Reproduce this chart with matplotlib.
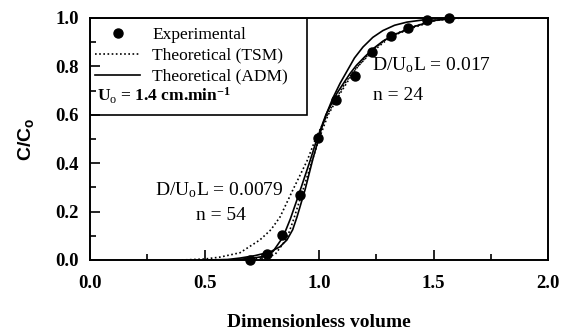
import matplotlib
matplotlib.use("Agg")
import matplotlib.pyplot as plt
from matplotlib.lines import Line2D
from matplotlib.patches import Rectangle

plt.rcParams['font.family'] = 'Liberation Serif'
plt.rcParams['mathtext.fontset'] = 'custom'
plt.rcParams['mathtext.rm'] = 'Liberation Serif'
plt.rcParams['mathtext.it'] = 'Liberation Serif:italic'
plt.rcParams['mathtext.bf'] = 'Liberation Serif:bold'
plt.rcParams['mathtext.sf'] = 'Liberation Sans:bold'

# experimental points
exp_x = [0.699, 0.773, 0.838, 0.917, 0.996, 1.074, 1.157, 1.231, 1.314, 1.389, 1.472, 1.568]
exp_y = [0.0, 0.025, 0.103, 0.269, 0.504, 0.661, 0.76, 0.86, 0.926, 0.959, 0.992, 1.0]

# theoretical curves
adm1_x = [0.50, 0.60, 0.655, 0.72, 0.786, 0.830, 0.860, 0.885, 0.904, 0.939, 0.974, 1.01,
          1.035, 1.061, 1.092, 1.122, 1.155, 1.192, 1.235, 1.279, 1.33, 1.384, 1.485, 1.6, 2.0]
adm1_y = [0.0, 0.002, 0.008, 0.018, 0.033, 0.055, 0.083, 0.125, 0.178, 0.29, 0.42, 0.54,
          0.61, 0.67, 0.73, 0.78, 0.835, 0.88, 0.92, 0.948, 0.97, 0.983, 0.996, 1.0, 1.0]
adm2_x = [0.62, 0.712, 0.760, 0.799, 0.843, 0.875, 0.908, 0.961, 0.991, 1.03, 1.079, 1.135,
          1.164, 1.20, 1.239, 1.28, 1.327, 1.416, 1.504, 1.6, 2.0]
adm2_y = [0.0, 0.008, 0.015, 0.035, 0.095, 0.17, 0.26, 0.41, 0.5, 0.6, 0.69, 0.77,
          0.805, 0.84, 0.875, 0.905, 0.93, 0.965, 0.99, 1.0, 1.0]
tsm1_x = [0.40, 0.50, 0.568, 0.655, 0.742, 0.790, 0.830, 0.886, 0.948, 0.985, 1.02, 1.07,
          1.12, 1.16, 1.23, 1.31, 1.40, 1.49, 1.6, 2.0]
tsm1_y = [0.0, 0.004, 0.012, 0.03, 0.083, 0.125, 0.178, 0.29, 0.41, 0.50, 0.57, 0.66,
          0.74, 0.79, 0.865, 0.925, 0.96, 0.988, 1.0, 1.0]
tsm2_x = [0.65, 0.73, 0.78, 0.81, 0.86, 0.89, 0.92, 0.97, 1.0, 1.04, 1.09, 1.14, 1.17,
          1.21, 1.245, 1.29, 1.33, 1.42, 1.51, 1.62, 2.0]
tsm2_y = [0.0, 0.006, 0.012, 0.025, 0.09, 0.17, 0.26, 0.41, 0.5, 0.6, 0.685, 0.76, 0.8,
          0.84, 0.87, 0.905, 0.93, 0.963, 0.99, 1.0, 1.0]

fig = plt.figure(figsize=(5.63, 3.31), dpi=100)
ax = fig.add_axes([90 / 563, 1 - 260 / 331, 458 / 563, 242 / 331])

lw = 1.2
dots = (0, (1, 1.5))
ax.plot(tsm1_x, tsm1_y, color='black', ls=dots, lw=lw)
ax.plot(tsm2_x, tsm2_y, color='black', ls=dots, lw=lw)
ax.plot(adm1_x, adm1_y, color='black', lw=lw)
ax.plot(adm2_x, adm2_y, color='black', lw=lw)
ax.plot(exp_x, exp_y, 'o', color='black', ms=6.5, clip_on=False, zorder=5)

ax.set_xlim(0, 2.0)
ax.set_ylim(0, 1.0)
ax.set_xticks([0, 0.5, 1.0, 1.5, 2.0])
ax.set_xticks([0.25, 0.75, 1.25, 1.75], minor=True)
ax.set_yticks([0, 0.2, 0.4, 0.6, 0.8, 1.0])
ax.set_yticks([0.1, 0.3, 0.5, 0.7, 0.9], minor=True)
ax.xaxis.set_major_formatter(plt.FormatStrFormatter('%.1f'))
ax.yaxis.set_major_formatter(plt.FormatStrFormatter('%.1f'))
ax.tick_params(which='both', direction='in', top=False, right=False, width=1.2)
ax.tick_params(which='major', length=7, labelsize=13.5, pad=8)
ax.tick_params(axis='x', which='major', pad=11)
ax.tick_params(which='minor', length=4.5)
for lab in ax.get_xticklabels() + ax.get_yticklabels():
    lab.set_fontweight('bold')
for sp in ax.spines.values():
    sp.set_linewidth(1.4)

ax.set_xlabel('Dimensionless volume', fontsize=14, fontweight='bold')
ax.xaxis.set_label_coords(0.5, -0.222)
ax.set_ylabel(r'$\mathsf{C/C_o}$', fontsize=14)
ax.yaxis.set_label_coords(-0.118, 0.5)

# legend box
ax.add_patch(Rectangle((0, 0.6), 0.948, 0.4, fill=False, ec='black', lw=1.2, zorder=6))
handles = [Line2D([], [], marker='o', ls='none', color='black', ms=6.5),
           Line2D([], [], color='black', ls=dots, lw=lw),
           Line2D([], [], color='black', lw=lw)]
labels = ['Experimental', 'Theoretical (TSM)', 'Theoretical (ADM)']
ax.legend(handles, labels, loc='upper left', bbox_to_anchor=(0.011, 0.965), frameon=False,
          fontsize=12.5, handlelength=2.6, handletextpad=0.7, labelspacing=0.28,
          borderaxespad=0, borderpad=0)
ax.text(0.03, 0.68, r'U$_\mathrm{o}$ = 1.4 cm.min$^\mathbf{-1}$', fontsize=12.5,
        fontweight='bold', va='center', ha='left')

ax.text(1.23, 0.805, r'D/U$_\mathrm{o}$L = 0.017', fontsize=14, va='center', ha='left')
ax.text(1.235, 0.68, 'n = 24', fontsize=14, va='center', ha='left')
ax.text(0.285, 0.29, r'D/U$_\mathrm{o}$L = 0.0079', fontsize=14, va='center', ha='left')
ax.text(0.57, 0.185, 'n = 54', fontsize=14, va='center', ha='center')

fig.savefig('out.png', dpi=100)
